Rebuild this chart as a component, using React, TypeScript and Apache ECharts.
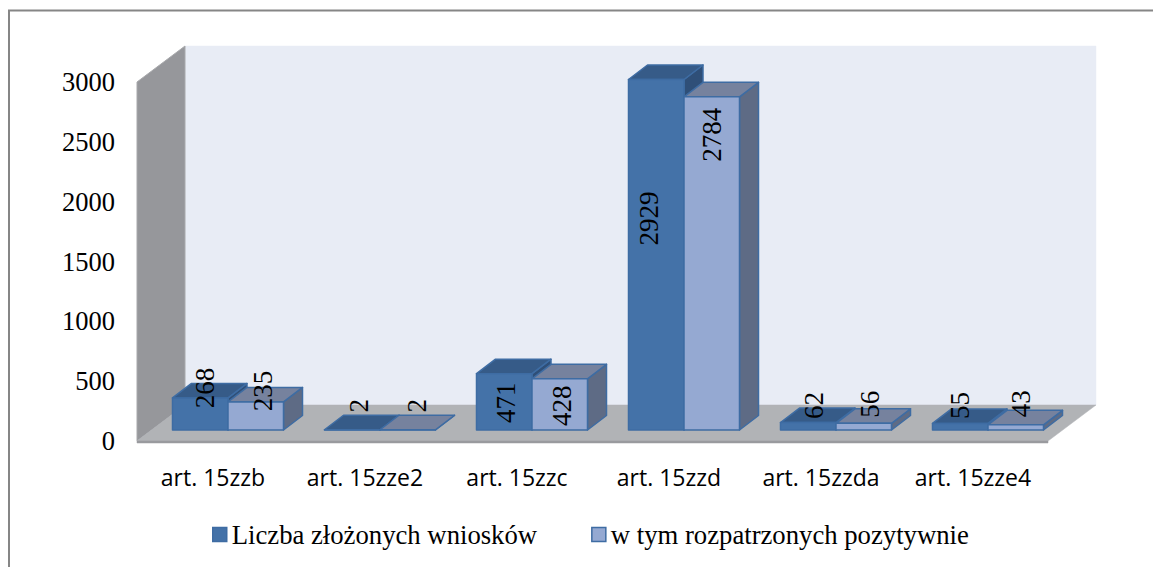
import React, { useEffect, useRef } from "react";
import * as echarts from "echarts";

const categories = ["art. 15zzb", "art. 15zze2", "art. 15zzc", "art. 15zzd", "art. 15zzda", "art. 15zze4"];
const filedName = "Liczba złożonych wniosków";
const approvedName = "w tym rozpatrzonych pozytywnie";
const filed = [268, 2, 471, 2929, 62, 55];
const approved = [235, 2, 428, 2784, 56, 43];
const yTicks = { min: 0, max: 3000, interval: 500 };

// label nudges relative to each bar's top-front centre (manual layout in the original)
const filedLabelNudge = [[5, -10], [7, -24], [2, 29], [-7, 139], [6, -17], [0, -18]];
const approvedLabelNudge = [[7, -11], [9, -24], [2, 27], [0, 38], [6, -19], [5, -21]];

const SERIF = '"Liberation Serif", "Times New Roman", serif';
const barW = 55.5;
const margin = { dx: 15, dy: -11 };
const depth = { dx: 19, dy: -14.5 };
const wall = { dx: 48, dy: -36 };

function poly(points: number[][], fill: string, stroke?: string, lw = 1.5) {
  return {
    type: "polygon",
    shape: { points },
    style: { fill, stroke: stroke || fill, lineWidth: lw, lineJoin: "round" },
  };
}

function barRenderer(
  values: number[],
  slot: number,
  colors: { front: string; top: string; side: string },
  nudges: number[][],
) {
  return (params: any, api: any) => {
    const i = api.value(0);
    const v = api.value(1);
    const base = api.coord([i, 0]);
    const top = api.coord([i, v]);
    const x0 = base[0] + slot * barW + margin.dx;
    const x1 = x0 + barW;
    const yb = base[1] + margin.dy;
    const yt = top[1] + margin.dy;
    const d = depth;
    const edge = "#3E6CA3";
    const n = nudges[params.dataIndex];
    return {
      type: "group",
      children: [
        poly([[x1, yb], [x1 + d.dx, yb + d.dy], [x1 + d.dx, yt + d.dy], [x1, yt]], colors.side, edge),
        poly([[x0, yt], [x1, yt], [x1 + d.dx, yt + d.dy], [x0 + d.dx, yt + d.dy]], colors.top, edge),
        poly([[x0, yb], [x1, yb], [x1, yt], [x0, yt]], colors.front, edge),
        {
          type: "text",
          x: (x0 + x1) / 2 + n[0],
          y: yt + n[1],
          rotation: Math.PI / 2,
          z2: 50,
          style: {
            text: String(values[params.dataIndex]),
            fontFamily: SERIF,
            fontSize: 27,
            fill: "#000",
            align: "center",
            verticalAlign: "middle",
          },
        },
      ],
    };
  };
}

function wallRenderer(params: any) {
  const c = params.coordSys;
  const l = c.x;
  const r = c.x + c.width - 1;
  const t = c.y;
  const b = c.y + c.height;
  const w = wall;
  return {
    type: "group",
    children: [
      poly([[l + w.dx, t + w.dy], [r + w.dx, t + w.dy], [r + w.dx, b + w.dy], [l + w.dx, b + w.dy]], "#E8ECF5", "#E8ECF5", 0.5),
      poly([[l, t], [l + w.dx, t + w.dy], [l + w.dx, b + w.dy], [l, b]], "#96979B", "#A8A9AC", 1),
      poly([[l, b], [r, b], [r + w.dx, b + w.dy], [l + w.dx, b + w.dy]], "#B1B3B6", "#B1B3B6", 0.5),
      poly([[l, b], [r, b], [r, b + 2], [l, b + 2]], "#999B9E", "#999B9E", 0.5),
    ],
  };
}

export default function App() {
  const ref = useRef<HTMLDivElement>(null);
  useEffect(() => {
    document.body.style.margin = "0";
    const chart = echarts.init(ref.current!, undefined, { renderer: "svg" });
    const c1 = { front: "#4472A8", top: "#365B88", side: "#2F4F78" };
    const c2 = { front: "#95A9D2", top: "#76829E", side: "#5E6B85" };
    chart.setOption({
      animation: false,
      backgroundColor: "#fff",
      grid: { left: 137, right: 104, top: 82, bottom: 126 },
      xAxis: {
        type: "category",
        data: categories,
        axisLine: { show: false },
        axisTick: { show: false },
        axisLabel: {
          interval: 0,
          margin: 24,
          fontFamily: '"Open Sans", sans-serif',
          fontSize: 23,
          color: "#000",
        },
      },
      yAxis: {
        type: "value",
        ...yTicks,
        axisLine: { show: false },
        axisTick: { show: false },
        splitLine: { show: false },
        axisLabel: { margin: 22, fontFamily: SERIF, fontSize: 26.5, color: "#000", formatter: (v: number) => String(v) },
      },
      legend: {
        left: 212,
        top: 521,
        padding: 0,
        itemWidth: 14,
        itemHeight: 14,
        itemGap: 54,
        icon: "rect",
        textStyle: { fontFamily: SERIF, fontSize: 26.7, color: "#000" },
        data: [
          { name: filedName, itemStyle: { color: c1.front, borderColor: "#3E6CA3", borderWidth: 1.5 } },
          { name: approvedName, itemStyle: { color: c2.front, borderColor: "#3E6CA3", borderWidth: 1.5 } },
        ],
      },
      graphic: [
        {
          type: "polyline",
          silent: true,
          shape: { points: [[9, 567], [9, 10.5], [1153, 10.5]] },
          style: { stroke: "#868686", lineWidth: 2, fill: "none" },
        },
      ],
      series: [
        {
          type: "custom",
          name: "walls",
          z: 1,
          silent: true,
          renderItem: wallRenderer,
          data: [[0, 0]],
          encode: { x: 0, y: 1 },
        },
        {
          type: "custom",
          name: filedName,
          z: 2,
          itemStyle: { color: c1.front },
          renderItem: barRenderer(filed, -1, c1, filedLabelNudge),
          data: filed.map((v, i) => [i, v]),
          encode: { x: 0, y: 1 },
        },
        {
          type: "custom",
          name: approvedName,
          z: 3,
          itemStyle: { color: c2.front },
          renderItem: barRenderer(approved, 0, c2, approvedLabelNudge),
          data: approved.map((v, i) => [i, v]),
          encode: { x: 0, y: 1 },
        },
      ],
    });
    return () => chart.dispose();
  }, []);
  return <div ref={ref} style={{ width: 1153, height: 567 }} />;
}
